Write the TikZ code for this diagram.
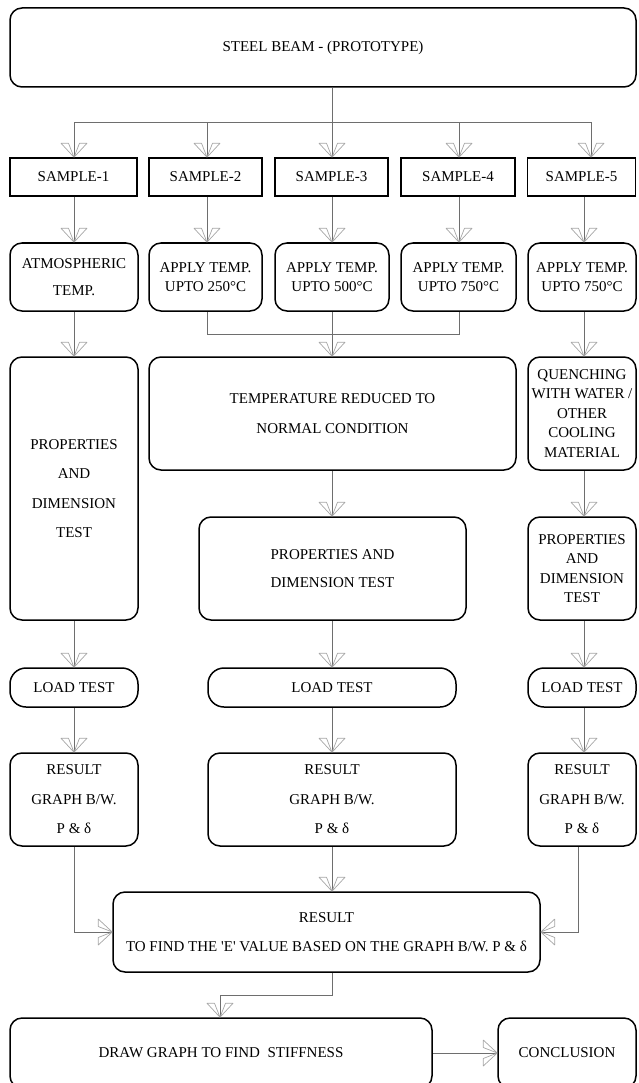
\documentclass[tikz,border=0pt]{standalone}
\usepackage{fontspec}
\setmainfont{Liberation Serif}
\pgfdeclarearrow{
  name = VV,
  setup code = {
    \pgfarrowssettipend{0pt}
    \pgfarrowssetlineend{0pt}
    \pgfarrowssetvisualbackend{-14pt}
    \pgfarrowssetbackend{-14pt}
    \pgfarrowshullpoint{0pt}{0pt}
    \pgfarrowshullpoint{-14pt}{13pt}
    \pgfarrowshullpoint{-14pt}{-13pt}
  },
  drawing code = {
    \pgfsetlinewidth{0.7pt}
    \pgfsetstrokecolor{gray!70}
    \pgfsetbeveljoin
    \pgfpathmoveto{\pgfpointorigin}
    \pgfpathlineto{\pgfpoint{-14pt}{13pt}}
    \pgfpathlineto{\pgfpoint{-14pt}{5.5pt}}
    \pgfpathclose
    \pgfpathmoveto{\pgfpointorigin}
    \pgfpathlineto{\pgfpoint{-14pt}{-13pt}}
    \pgfpathlineto{\pgfpoint{-14pt}{-5.5pt}}
    \pgfpathclose
    \pgfusepathqstroke
  }
}
\definecolor{linegray}{RGB}{110,110,110}
\begin{document}
\begin{tikzpicture}[x=1pt,y=-1pt,
  rbox/.style={draw, line width=1.5pt, rounded corners=12pt, align=center, inner sep=0pt,
    font=\fontsize{15}{19.5}\selectfont},
  sbox/.style={rbox, rounded corners=0pt},
  conn/.style={draw=linegray, line width=0.8pt},
  arr/.style={conn, -VV}]
\useasboundingbox (0,0) rectangle (638,1083);
% columns
\coordinate (c1) at (74,0);
\coordinate (c2) at (207,0);
\coordinate (c3) at (332,0);
\coordinate (c4) at (459,0);
\coordinate (c5in) at (591,0);
\coordinate (c5) at (584,0);
\coordinate (c5r) at (578,0);
\coordinate (c6) at (220,0);
% nodes
\node[rbox, minimum width=626pt, minimum height=79pt] (top) at (323,47.5) {STEEL BEAM - (PROTOTYPE)};
\node[sbox, minimum width=127pt, minimum height=38pt] (S1) at (73.5,177) {SAMPLE-1};
\node[sbox, minimum width=113pt, minimum height=38pt] (S2) at (205.5,177) {SAMPLE-2};
\node[sbox, minimum width=113pt, minimum height=38pt] (S3) at (331.5,177) {SAMPLE-3};
\node[sbox, minimum width=114pt, minimum height=38pt] (S4) at (458,177) {SAMPLE-4};
\node[sbox, minimum width=108pt, minimum height=38pt] (S5) at (581.5,177) {SAMPLE-5};
\node[rbox, minimum width=128pt, minimum height=68pt] (A1) at (74,277) {ATMOSPHERIC\\[8pt]TEMP.};
\node[rbox, minimum width=113pt, minimum height=68pt] (A2) at (205.5,277) {APPLY TEMP.\\UPTO 250°C};
\node[rbox, minimum width=114pt, minimum height=68pt] (A3) at (332,277) {APPLY TEMP.\\UPTO 500°C};
\node[rbox, minimum width=115pt, minimum height=68pt] (A4) at (458.5,277) {APPLY TEMP.\\UPTO 750°C};
\node[rbox, minimum width=108pt, minimum height=68pt] (A5) at (582,277) {APPLY TEMP.\\UPTO 750°C};
\node[rbox, minimum width=128pt, minimum height=263pt] (P1) at (74,488.5) {PROPERTIES\\[10pt]AND\\[10pt]DIMENSION\\[10pt]TEST};
\node[rbox, minimum width=367pt, minimum height=113pt] (TR) at (332.5,413.5) {TEMPERATURE REDUCED TO\\[10pt]NORMAL CONDITION};
\node[rbox, minimum width=108pt, minimum height=113pt] (Q) at (582,413.5) {QUENCHING\\WITH WATER /\\OTHER\\COOLING\\MATERIAL};
\node[rbox, minimum width=267pt, minimum height=103pt] (P2) at (332.5,568.5) {PROPERTIES AND\\[9pt]DIMENSION TEST};
\node[rbox, minimum width=108pt, minimum height=103pt] (P3) at (582,568.5) {PROPERTIES\\AND\\DIMENSION\\TEST};
\node[rbox, rounded corners=16pt, minimum width=128pt, minimum height=39pt] (L1) at (74,687.5) {LOAD TEST};
\node[rbox, rounded corners=16pt, minimum width=248pt, minimum height=39pt] (L2) at (332,687.5) {LOAD TEST};
\node[rbox, rounded corners=16pt, minimum width=108pt, minimum height=39pt] (L3) at (582,687.5) {LOAD TEST};
\node[rbox, minimum width=128pt, minimum height=93pt] (R1) at (74,799.5) {RESULT\\[10pt]GRAPH B/W.\\[10pt]P \& δ};
\node[rbox, minimum width=248pt, minimum height=93pt] (R2) at (332,799.5) {RESULT\\[10pt]GRAPH B/W.\\[10pt]P \& δ};
\node[rbox, minimum width=108pt, minimum height=93pt] (R3) at (582,799.5) {RESULT\\[10pt]GRAPH B/W.\\[10pt]P \& δ};
\node[rbox, minimum width=427pt, minimum height=80pt] (BIG) at (326.5,932) {RESULT\\[10pt]TO FIND THE \textquotesingle E\textquotesingle{} VALUE BASED ON THE GRAPH B/W. P \& δ};
\node[rbox, minimum width=422pt, minimum height=70pt] (DR) at (221,1053) {DRAW GRAPH TO FIND\ \ STIFFNESS};
\node[rbox, minimum width=138pt, minimum height=70pt] (CO) at (567,1053) {CONCLUSION};
% connectors
\coordinate (j0) at (332,122);
\draw[conn] (top.south -| c3) -- (j0);
\draw[arr] (j0) -| (S1.north -| c1);
\draw[arr] (j0) -| (S2.north -| c2);
\draw[arr] (j0) -- (S3.north -| c3);
\draw[arr] (j0) -| (S4.north -| c4);
\draw[arr] (j0) -| (S5.north -| c5in);
\draw[arr] (S1.south -| c1) -- (A1.north -| c1);
\draw[arr] (S2.south -| c2) -- (A2.north -| c2);
\draw[arr] (S3.south -| c3) -- (A3.north -| c3);
\draw[arr] (S4.south -| c4) -- (A4.north -| c4);
\draw[arr] (S5.south -| c5) -- (A5.north -| c5);
\coordinate (j1) at (332,334);
\draw[arr] (A1.south -| c1) -- (P1.north -| c1);
\draw[conn] (A2.south -| c2) |- (j1);
\draw[conn] (A4.south -| c4) |- (j1);
\draw[arr] (A3.south -| c3) -- (TR.north -| c3);
\draw[arr] (A5.south -| c5) -- (Q.north -| c5);
\draw[arr] (TR.south -| c3) -- (P2.north -| c3);
\draw[arr] (Q.south -| c5) -- (P3.north -| c5);
\draw[arr] (P1.south -| c1) -- (L1.north -| c1);
\draw[arr] (P2.south -| c3) -- (L2.north -| c3);
\draw[arr] (P3.south -| c5) -- (L3.north -| c5);
\draw[arr] (L1.south -| c1) -- (R1.north -| c1);
\draw[arr] (L2.south -| c3) -- (R2.north -| c3);
\draw[arr] (L3.south -| c5) -- (R3.north -| c5);
\draw[arr] (R1.south -| c1) |- (BIG.west);
\draw[arr] (R2.south -| c3) -- (BIG.north -| c3);
\draw[arr] (R3.south -| c5r) |- (BIG.east);
\coordinate (j2) at (332,995);
\draw[arr] (BIG.south -| c3) -- (j2) -| (DR.north -| c6);
\draw[arr] (DR.east) -- (CO.west);
\end{tikzpicture}
\end{document}
